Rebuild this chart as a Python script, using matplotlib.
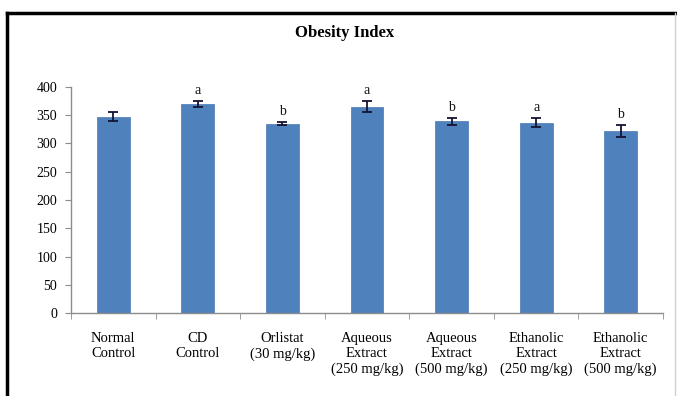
import matplotlib
matplotlib.use("Agg")
import matplotlib.pyplot as plt
from matplotlib.lines import Line2D

categories = [
    "Normal\nControl",
    "CD\nControl",
    "Orlistat\n(30 mg/kg)",
    "Aqueous\nExtract\n(250 mg/kg)",
    "Aqueous\nExtract\n(500 mg/kg)",
    "Ethanolic\nExtract\n(250 mg/kg)",
    "Ethanolic\nExtract\n(500 mg/kg)",
]
obesity_index = [347, 370, 335, 365, 339, 337, 322]
sem = [8, 6, 3, 10, 7, 8, 11]
significance = ["", "a", "b", "a", "b", "a", "b"]
yticks = list(range(0, 401, 50))

plt.rcParams["font.family"] = ["Liberation Serif", "DejaVu Serif"]

fig = plt.figure(figsize=(6.77, 3.96), dpi=100)
ax = fig.add_axes([71 / 677, 1 - 313 / 396, (663 - 71) / 677, (313 - 87) / 396])

x = list(range(len(categories)))
ax.bar(x, obesity_index, width=0.39, color="#4F81BD", edgecolor="#4A7AB3",
       linewidth=0.5, zorder=2)
ax.errorbar(x, obesity_index, yerr=sem, fmt="none", ecolor="#141433",
            elinewidth=1.3, capsize=3.5, capthick=1.3, zorder=3)

for xi, v, e, s in zip(x, obesity_index, sem, significance):
    if s:
        ax.text(xi, v + e + 7, s, ha="center", va="bottom", fontsize=10,
                color="#111111")

ax.set_xlim(-0.5, len(categories) - 0.5)
ax.set_ylim(0, 400)
ax.set_yticks(yticks)
ax.set_yticklabels([str(t) for t in yticks], fontsize=10)

ax.set_xticks(x)
ax.set_xticklabels(categories, fontsize=10.5, linespacing=1.2)
ax.set_xticks([i - 0.5 for i in range(len(categories) + 1)], minor=True)
ax.tick_params(axis="x", which="major", length=0, pad=14)
ax.tick_params(axis="x", which="minor", length=4, color="#8c8c8c", direction="out")
ax.tick_params(axis="y", length=4, color="#8c8c8c", direction="out", pad=6)

for side in ("top", "right"):
    ax.spines[side].set_visible(False)
for side in ("left", "bottom"):
    ax.spines[side].set_color("#8c8c8c")
    ax.spines[side].set_linewidth(1.0)

fig.text(345 / 677, 1 - 33 / 396, "Obesity Index", ha="center", va="center",
         fontsize=12, fontweight="bold")

# chart frame: heavy top and left edges, faint right edge
fig.add_artist(Line2D([6.5 / 677, 1], [1 - 12.5 / 396] * 2, color="black",
                      linewidth=2.5, transform=fig.transFigure))
fig.add_artist(Line2D([6.5 / 677] * 2, [0, 1 - 12.5 / 396], color="black",
                      linewidth=2.5, transform=fig.transFigure))
fig.add_artist(Line2D([675 / 677] * 2, [0, 1 - 12.5 / 396], color="#cfcfcf",
                      linewidth=1.0, transform=fig.transFigure))

fig.savefig("out.png", dpi=100)
